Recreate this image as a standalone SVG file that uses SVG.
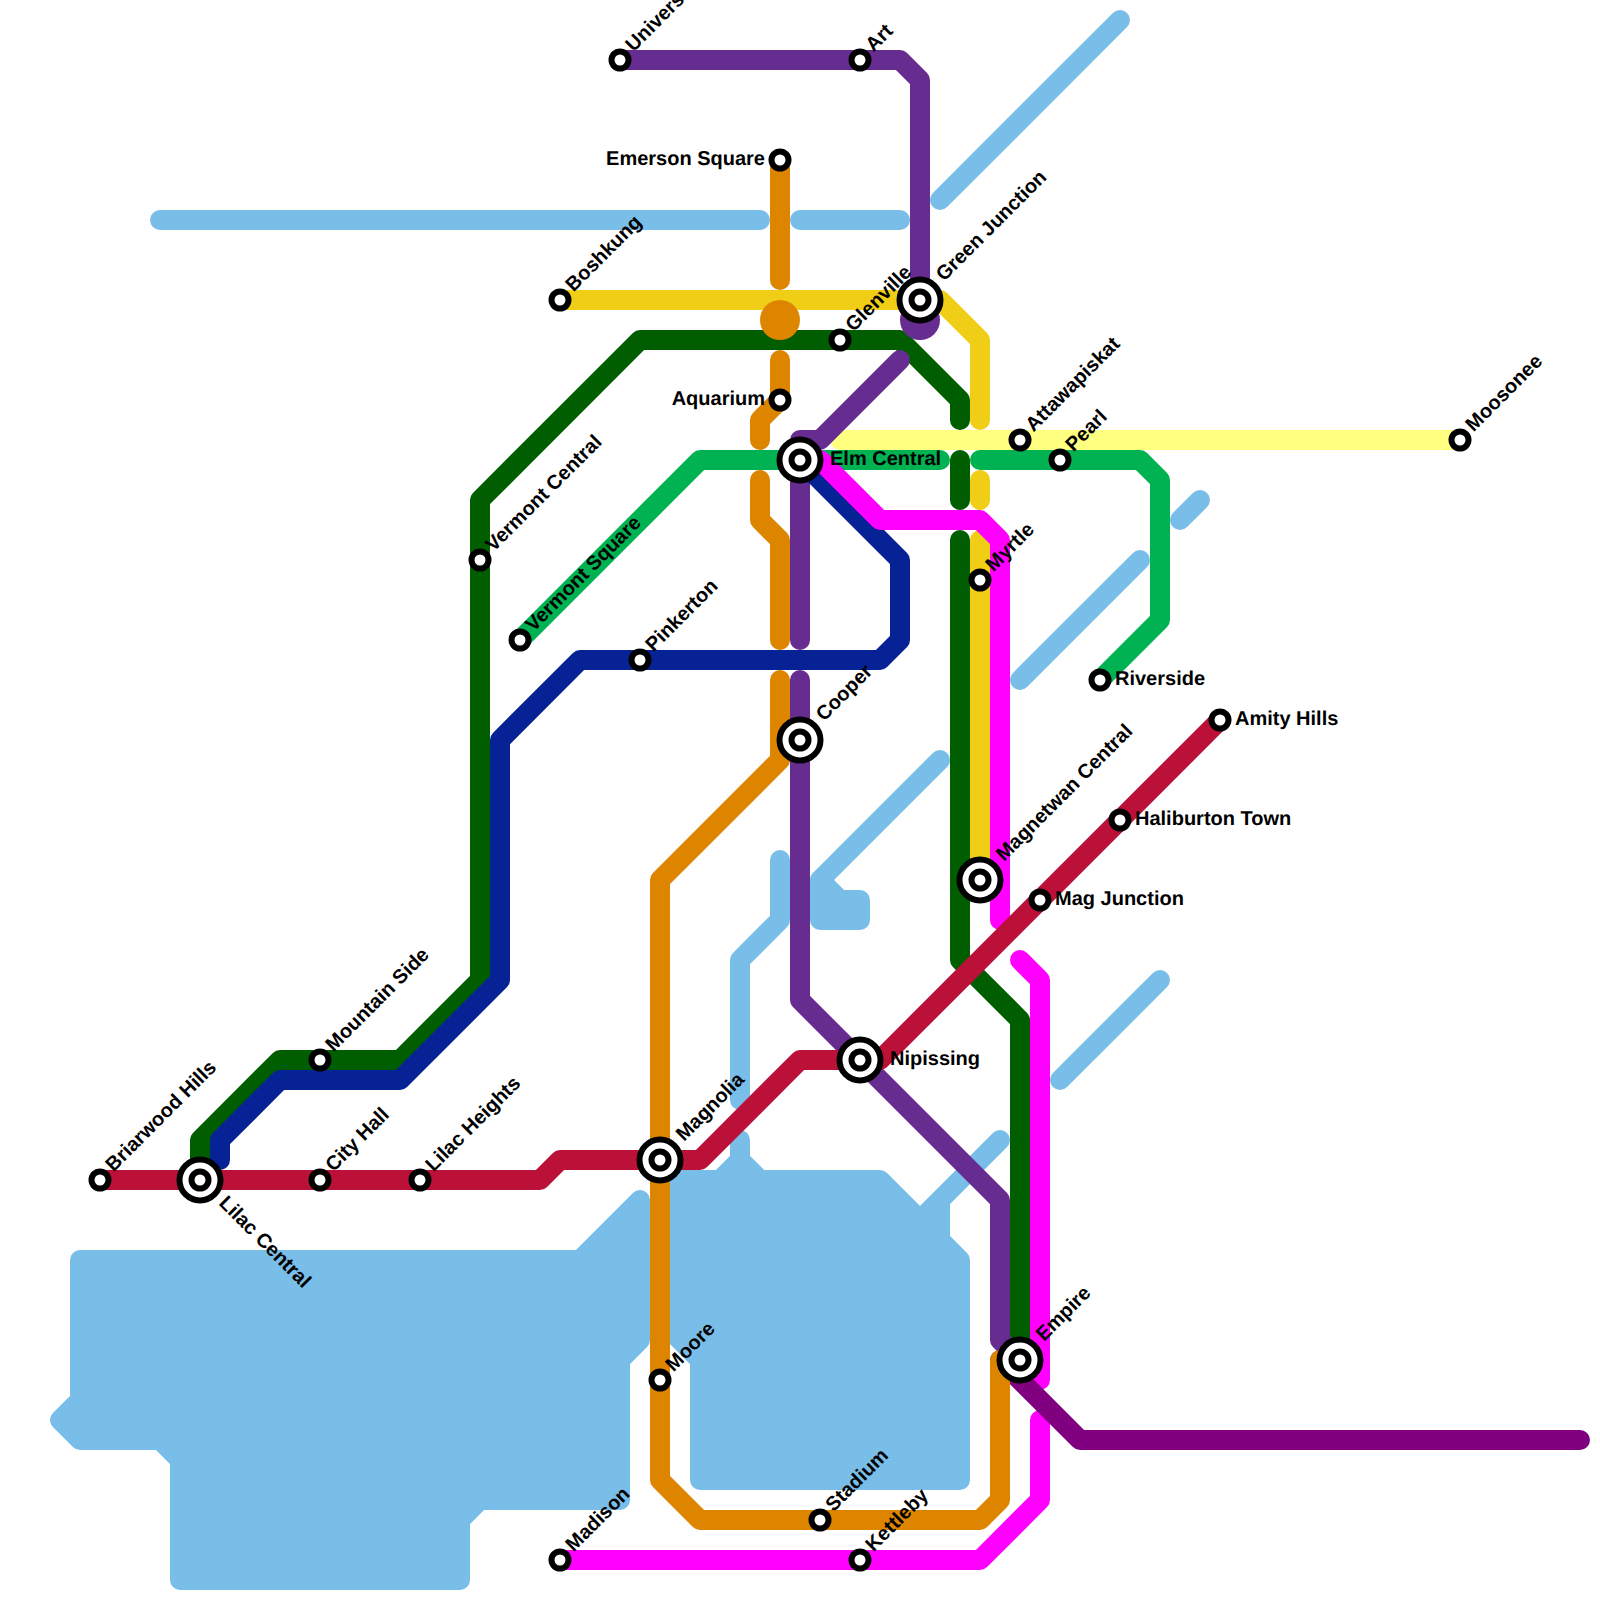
<svg xmlns="http://www.w3.org/2000/svg" width="1600" height="1600" viewBox="0 0 1600 1600">
<style>
.l{fill:none;stroke-width:20;stroke-linecap:round;stroke-linejoin:round}
.w{stroke:#79bde9}
.wf{fill:#79bde9;stroke:#79bde9;stroke-width:20;stroke-linejoin:round}
.or{stroke:#de8500}.pu{stroke:#662c90}.ye{stroke:#f0ce15}.dg{stroke:#005e00}.na{stroke:#062294}.cr{stroke:#bb1038}.bg{stroke:#00b251}.ly{stroke:#ffff80}.ma{stroke:#ff00ff}.dp{stroke:#800080}
.o{fill:#fff;stroke:#000;stroke-width:6}
text{font-family:"Liberation Sans",Arial,sans-serif;font-weight:bold;font-size:20px;fill:#000;text-rendering:geometricPrecision}
</style>
<g id="water">
<path class="l w" d="M160 220H760"/>
<path class="l w" d="M800 220H900"/>
<path class="l w" d="M940 200L1120 20"/>
<path class="l w" d="M1180 520L1200 500"/>
<path class="l w" d="M1020 680L1140 560"/>
<path class="l w" d="M1060 1080L1160 980"/>
<path class="l w" d="M780 860V920L740 960V1100"/>
<path class="l w" d="M940 760L820 880"/>
<path class="wf" d="M820 880L840 900H860V920H820Z"/>
<path class="wf" d="M80 1260H580L640 1200V1340L620 1360V1500H480L460 1520V1580H180V1460L160 1440H80L60 1420L80 1400Z"/>
<path class="wf" d="M660 1180H720L740 1160V1140V1160L760 1180H880L920 1220L1000 1140L940 1200V1240L960 1260V1480H700V1360L660 1320Z"/>
</g>
<g id="connectors">
<path class="l pu" d="M620 60H900L920 80V320"/>
<path class="l ye" d="M560 300H940L980 340V420"/>
<path class="l ye" d="M980 480V500"/>
<path class="l ye" d="M980 540V880"/>
<path class="l dg" d="M200 1180V1140L280 1060H400L480 980V500L640 340H900L960 400V420"/>
<path class="l dg" d="M960 460V500"/>
<path class="l dg" d="M960 540V960L1020 1020V1360"/>
<circle cx="920" cy="320" r="20" fill="#662c90"/>
<path class="l bg" d="M520 640L700 460H940"/>
<path class="l bg" d="M980 460H1140L1160 480V620L1100 680"/>
<path class="l ly" d="M840 440H1460"/>
<path class="l pu" d="M900 360L820 440H800V640"/>
<path class="l pu" d="M800 680V1000L1000 1200V1340L1020 1360"/>
<path class="l na" d="M220 1160V1140L280 1080H400L500 980V740L580 660H880L900 640V560L800 460"/>
<path class="l ma" d="M800 460H820L880 520H980L1000 540V920"/>
<path class="l ma" d="M1020 960L1040 980V1380"/>
<path class="l ma" d="M1040 1420V1500L980 1560H560"/>
<path class="l dp" d="M1000 1360L1080 1440H1580"/>
<path class="l or" d="M780 160V280"/>
<circle cx="780" cy="320" r="20" fill="#de8500"/>
<path class="l or" d="M780 360V400L760 420V440"/>
<path class="l or" d="M760 480V520L780 540V640"/>
<path class="l or" d="M780 680V760L660 880V1480L700 1520H980L1000 1500V1360H1020"/>
<path class="l cr" d="M100 1180H540L560 1160H700L800 1060H880L1220 720"/>
</g>
<g id="university"><circle class="o" cx="620" cy="60" r="8.5"/><text transform="translate(633.6 52.4) rotate(-45)">University</text></g>
<g id="art"><circle class="o" cx="860" cy="60" r="8.5"/><text transform="translate(873.6 52.4) rotate(-45)">Art</text></g>
<g id="emerson-square"><circle class="o" cx="780" cy="160" r="8.5"/><text x="765" y="165" text-anchor="end">Emerson Square</text></g>
<g id="boshkung"><circle class="o" cx="560" cy="300" r="8.5"/><text transform="translate(573.6 292.4) rotate(-45)">Boshkung</text></g>
<g id="glenville"><circle class="o" cx="840" cy="340" r="8.5"/><text transform="translate(853.6 332.4) rotate(-45)">Glenville</text></g>
<g id="green-junction"><circle class="o" cx="920" cy="300" r="20.5"/><circle class="o" cx="920" cy="300" r="8.5"/><text transform="translate(944 282) rotate(-45)">Green Junction</text></g>
<g id="aquarium"><circle class="o" cx="780" cy="400" r="8.5"/><text x="765" y="405" text-anchor="end">Aquarium</text></g>
<g id="attawapiskat"><circle class="o" cx="1020" cy="440" r="8.5"/><text transform="translate(1033.6 432.4) rotate(-45)">Attawapiskat</text></g>
<g id="moosonee"><circle class="o" cx="1460" cy="440" r="8.5"/><text transform="translate(1473.6 432.4) rotate(-45)">Moosonee</text></g>
<g id="pearl"><circle class="o" cx="1060" cy="460" r="8.5"/><text transform="translate(1073.6 452.4) rotate(-45)">Pearl</text></g>
<g id="elm-central"><circle class="o" cx="800" cy="460" r="20.5"/><circle class="o" cx="800" cy="460" r="8.5"/><text x="830" y="465">Elm Central</text></g>
<g id="vermont-central"><circle class="o" cx="480" cy="560" r="8.5"/><text transform="translate(493.6 552.4) rotate(-45)">Vermont Central</text></g>
<g id="vermont-square"><circle class="o" cx="520" cy="640" r="8.5"/><text transform="translate(533.6 632.4) rotate(-45)">Vermont Square</text></g>
<g id="myrtle"><circle class="o" cx="980" cy="580" r="8.5"/><text transform="translate(993.6 572.4) rotate(-45)">Myrtle</text></g>
<g id="pinkerton"><circle class="o" cx="640" cy="660" r="8.5"/><text transform="translate(653.6 652.4) rotate(-45)">Pinkerton</text></g>
<g id="riverside"><circle class="o" cx="1100" cy="680" r="8.5"/><text x="1115" y="685">Riverside</text></g>
<g id="amity-hills"><circle class="o" cx="1220" cy="720" r="8.5"/><text x="1235" y="725">Amity Hills</text></g>
<g id="cooper"><circle class="o" cx="800" cy="740" r="20.5"/><circle class="o" cx="800" cy="740" r="8.5"/><text transform="translate(824 722) rotate(-45)">Cooper</text></g>
<g id="haliburton-town"><circle class="o" cx="1120" cy="820" r="8.5"/><text x="1135" y="825">Haliburton Town</text></g>
<g id="magnetwan-central"><circle class="o" cx="980" cy="880" r="20.5"/><circle class="o" cx="980" cy="880" r="8.5"/><text transform="translate(1004 862) rotate(-45)">Magnetwan Central</text></g>
<g id="mag-junction"><circle class="o" cx="1040" cy="900" r="8.5"/><text x="1055" y="905">Mag Junction</text></g>
<g id="nipissing"><circle class="o" cx="860" cy="1060" r="20.5"/><circle class="o" cx="860" cy="1060" r="8.5"/><text x="890" y="1065">Nipissing</text></g>
<g id="mountain-side"><circle class="o" cx="320" cy="1060" r="8.5"/><text transform="translate(333.6 1052.4) rotate(-45)">Mountain Side</text></g>
<g id="magnolia"><circle class="o" cx="660" cy="1160" r="20.5"/><circle class="o" cx="660" cy="1160" r="8.5"/><text transform="translate(684 1142) rotate(-45)">Magnolia</text></g>
<g id="briarwood-hills"><circle class="o" cx="100" cy="1180" r="8.5"/><text transform="translate(113.6 1172.4) rotate(-45)">Briarwood Hills</text></g>
<g id="lilac-central"><circle class="o" cx="200" cy="1180" r="20.5"/><circle class="o" cx="200" cy="1180" r="8.5"/><text transform="translate(218 1204) rotate(45)">Lilac Central</text></g>
<g id="city-hall"><circle class="o" cx="320" cy="1180" r="8.5"/><text transform="translate(333.6 1172.4) rotate(-45)">City Hall</text></g>
<g id="lilac-heights"><circle class="o" cx="420" cy="1180" r="8.5"/><text transform="translate(433.6 1172.4) rotate(-45)">Lilac Heights</text></g>
<g id="empire"><circle class="o" cx="1020" cy="1360" r="20.5"/><circle class="o" cx="1020" cy="1360" r="8.5"/><text transform="translate(1044 1342) rotate(-45)">Empire</text></g>
<g id="moore"><circle class="o" cx="660" cy="1380" r="8.5"/><text transform="translate(673.6 1372.4) rotate(-45)">Moore</text></g>
<g id="stadium"><circle class="o" cx="820" cy="1520" r="8.5"/><text transform="translate(833.6 1512.4) rotate(-45)">Stadium</text></g>
<g id="madison"><circle class="o" cx="560" cy="1560" r="8.5"/><text transform="translate(573.6 1552.4) rotate(-45)">Madison</text></g>
<g id="kettleby"><circle class="o" cx="860" cy="1560" r="8.5"/><text transform="translate(873.6 1552.4) rotate(-45)">Kettleby</text></g>
</svg>
